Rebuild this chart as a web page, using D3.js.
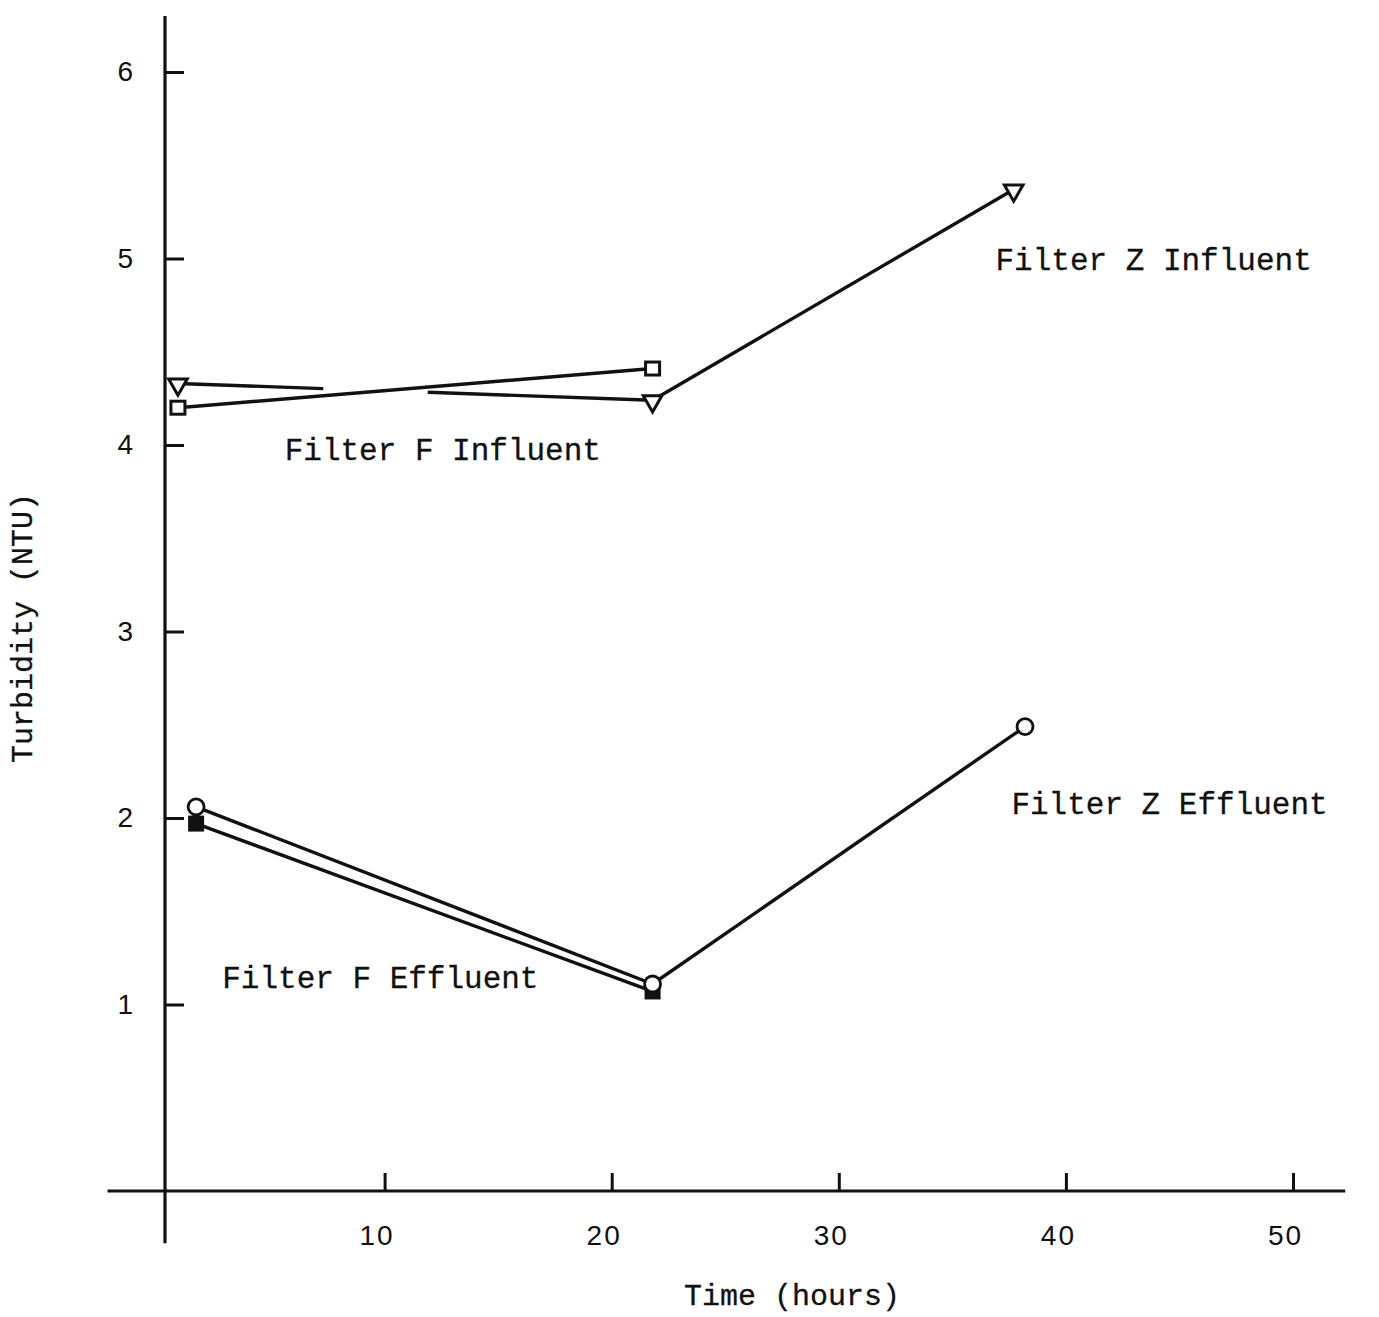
<!DOCTYPE html>
<html>
<head>
<meta charset="utf-8">
<script src="https://cdn.jsdelivr.net/npm/d3@7"></script>
<style>
  html, body { margin:0; padding:0; background:#fff; }
  svg { display:block; }
</style>
</head>
<body>
<div id="chart"></div>
<script>
// turbidity vs time, typewriter-style plot

const X_TICKS = [10, 20, 30, 40, 50];
const Y_TICKS = [1, 2, 3, 4, 5, 6];

// hours / NTU
const Z_INF_T = [0.9, 21.8, 37.7];
const Z_INF_V = [4.33, 4.24, 5.37];
const Z_INF_GAP = [7.3, 11.9];   // break in the first segment

const F_INF_T = [0.9, 21.8];
const F_INF_V = [4.20, 4.41];

const Z_EFF_T = [1.7, 21.8, 38.2];
const Z_EFF_V = [2.06, 1.11, 2.49];

const F_EFF_T = [1.7, 21.8];
const F_EFF_V = [1.97, 1.07];

const LABELS = [
  { text:"Filter Z Influent", t:36.9, v:5.0 },
  { text:"Filter F Influent", t:5.6,  v:3.98 },
  { text:"Filter Z Effluent", t:37.6, v:2.08 },
  { text:"Filter F Effluent", t:2.85, v:1.15 },
];

const W = 1379, H = 1317;
const INK = "#111";
const MONO = "'Liberation Mono', 'Courier New', monospace";
const SANS = "'Liberation Sans', Arial, sans-serif";

const x = d3.scaleLinear().domain([0, 50]).range([157.5, 1293]);
const y = d3.scaleLinear().domain([0, 6]).range([1191, 72]);

const svg = d3.select("#chart").append("svg")
  .attr("width", W).attr("height", H).attr("viewBox", `0 0 ${W} ${H}`);

const AX = 165; // where the vertical axis sits

// y axis: ticks pointing into the plot, labels out left
svg.append("g").attr("transform", `translate(${AX},0)`)
  .call(d3.axisLeft(y).tickValues(Y_TICKS).tickSize(-19).tickPadding(32).tickFormat(d3.format("d")))
  .call(a => a.select(".domain").remove())
  .call(a => a.selectAll("line").attr("stroke", INK).attr("stroke-width", 3))
  .call(a => a.selectAll("text").attr("fill", INK)
    .style("font-family", SANS).style("font-size", "28px"));

// x axis: ticks pointing up
svg.append("g").attr("transform", `translate(0,${y(0)})`)
  .call(d3.axisBottom(x).tickValues(X_TICKS).tickSize(-18).tickPadding(34).tickFormat(d3.format("d")))
  .call(a => a.select(".domain").remove())
  .call(a => a.selectAll("line").attr("stroke", INK).attr("stroke-width", 3))
  .call(a => a.selectAll("text").attr("fill", INK).attr("dx", -8)
    .style("font-family", SANS).style("font-size", "28px").style("letter-spacing", "2px"));

// axis lines run past the origin, hand-drawn style
svg.append("line")
  .attr("x1", AX).attr("x2", AX).attr("y1", y(6.3)).attr("y2", y(-0.28))
  .attr("stroke", INK).attr("stroke-width", 3.2);
svg.append("line")
  .attr("x1", x(-2.2)).attr("x2", x(52.3)).attr("y1", y(0)).attr("y2", y(0))
  .attr("stroke", INK).attr("stroke-width", 3);

const line = d3.line().x(d => x(d[0])).y(d => y(d[1]));
const pts = (T, V) => T.map((t, i) => [t, V[i]]);

function drawLine(T, V) {
  return svg.append("path").datum(pts(T, V)).attr("d", line)
    .attr("fill", "none").attr("stroke", INK).attr("stroke-width", 3.4)
    .attr("stroke-linejoin", "round");
}

// Z influent with its break in the first segment
const zPath = drawLine(Z_INF_T, Z_INF_V);
{
  const x0 = x(Z_INF_T[0]), x1 = x(Z_INF_T[1]);
  const seg = Math.hypot(x1 - x0, y(Z_INF_V[1]) - y(Z_INF_V[0]));
  const f1 = (x(Z_INF_GAP[0]) - x0) / (x1 - x0);
  const f2 = (x(Z_INF_GAP[1]) - x0) / (x1 - x0);
  const L = zPath.node().getTotalLength();
  zPath.attr("stroke-dasharray", `${f1 * seg} ${(f2 - f1) * seg} ${L}`);
}
drawLine(F_INF_T, F_INF_V);
drawLine(Z_EFF_T, Z_EFF_V);
drawLine(F_EFF_T, F_EFF_V);

// markers
const tri = d3.symbol().type(d3.symbolTriangle).size(150);
svg.append("g").selectAll("path").data(pts(Z_INF_T, Z_INF_V)).join("path")
  .attr("d", tri)
  .attr("transform", d => `translate(${x(d[0])},${y(d[1]) + 1}) rotate(180)`)
  .attr("fill", "#fff").attr("stroke", INK).attr("stroke-width", 3);

svg.append("g").selectAll("rect").data(pts(F_INF_T, F_INF_V)).join("rect")
  .attr("x", d => x(d[0]) - 7).attr("y", d => y(d[1]) - 6.5)
  .attr("width", 14).attr("height", 13)
  .attr("fill", "#fff").attr("stroke", INK).attr("stroke-width", 3);

svg.append("g").selectAll("rect").data(pts(F_EFF_T, F_EFF_V)).join("rect")
  .attr("x", d => x(d[0]) - 8).attr("y", d => y(d[1]) - 8)
  .attr("width", 16).attr("height", 16).attr("fill", INK);

svg.append("g").selectAll("circle").data(pts(Z_EFF_T, Z_EFF_V)).join("circle")
  .attr("cx", d => x(d[0])).attr("cy", d => y(d[1])).attr("r", 8)
  .attr("fill", "#fff").attr("stroke", INK).attr("stroke-width", 2.8);

// series labels
svg.append("g").selectAll("text").data(LABELS).join("text")
  .attr("x", d => x(d.t)).attr("y", d => y(d.v) + 11)
  .attr("fill", INK).attr("stroke", INK).attr("stroke-width", 0.3)
  .style("font-family", MONO).style("font-size", "31px")
  .text(d => d.text);

// axis titles
svg.append("text")
  .attr("x", 792).attr("y", 1305).attr("text-anchor", "middle")
  .attr("fill", INK).attr("stroke", INK).attr("stroke-width", 0.3)
  .style("font-family", MONO).style("font-size", "30px")
  .text("Time (hours)");

svg.append("text")
  .attr("transform", "translate(32,628) rotate(-90)").attr("text-anchor", "middle")
  .attr("fill", INK).attr("stroke", INK).attr("stroke-width", 0.3)
  .style("font-family", MONO).style("font-size", "30px")
  .text("Turbidity (NTU)");
</script>
</body>
</html>
